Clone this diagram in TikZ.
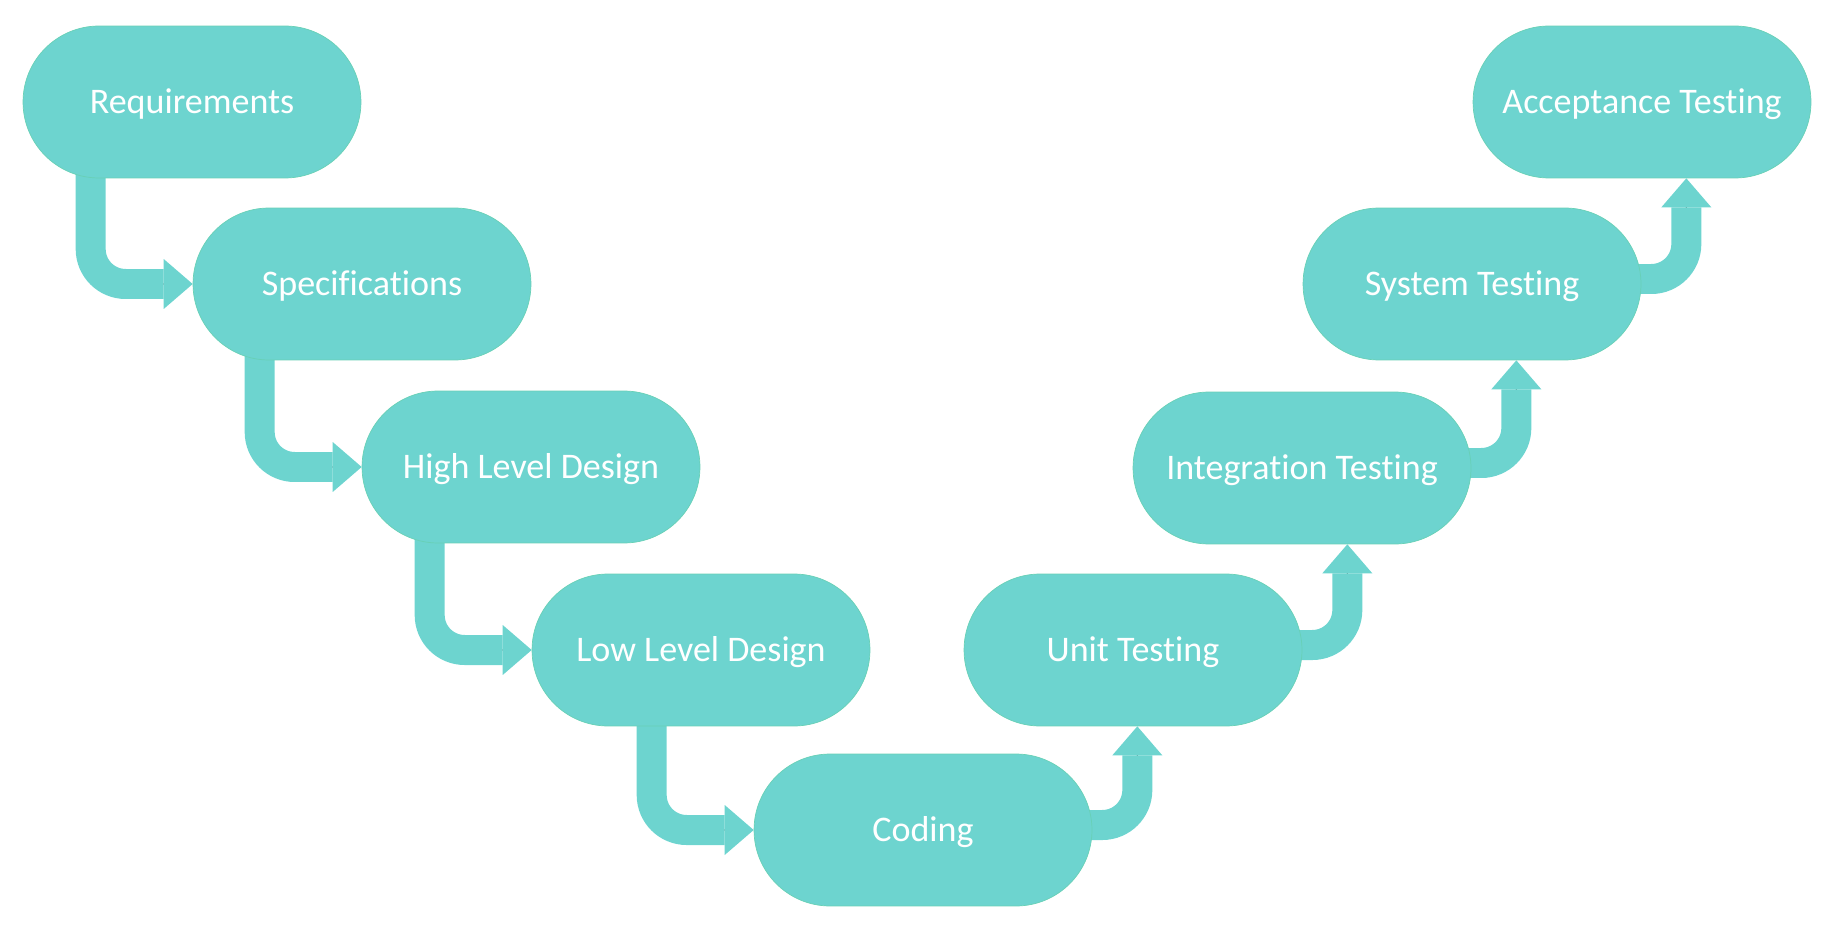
\documentclass[tikz,border=0pt]{standalone}
\usepackage{fontspec}
\setmainfont{Carlito}[Ligatures=NoCommon]
\usepackage{tikz}
\usetikzlibrary{arrows.meta,backgrounds}
\definecolor{vmfill}{RGB}{109,212,207}
\definecolor{vmline}{RGB}{104,208,182}

\begin{document}
\begin{tikzpicture}[x=0.02cm, y=-0.02cm,
	phase/.style={draw=vmline, line width=0.4pt, fill=vmfill, rounded corners=1.52cm,
		minimum width=6.76cm, minimum height=3.04cm, inner sep=0pt, text=white,
		font=\fontsize{20.5}{24}\selectfont, text height=13.2pt, text depth=0pt},
	flow/.style={draw=vmfill, line width=0.6cm, rounded corners=0.7cm,
		preaction={draw, -, shorten >=0.4cm},
		-{Triangle[width=1cm, length=0.58cm, line width=0pt]}}]
	\useasboundingbox (0,0) rectangle (1835,932);
	% left branch
	\node[phase] (req) at (192,102) {Requirements};
	\node[phase] (spec) at (362,284) {Specifications};
	\node[phase] (hld) at (531,467) {High Level Design};
	\node[phase] (lld) at (701,650) {Low Level Design};
	\node[phase] (cod) at (923,830) {Coding};
	% right branch
	\node[phase] (unit) at (1133,650) {Unit Testing};
	\node[phase] (integ) at (1302,468) {Integration Testing};
	\node[phase] (sys) at (1472,284) {System Testing};
	\node[phase] (acc) at (1642,102) {Acceptance Testing};
	% bends of the arrows
	\path (spec.west) ++(-102,0) coordinate (k1);
	\path (hld.west) ++(-102,0) coordinate (k2);
	\path (lld.west) ++(-102,0) coordinate (k3);
	\path (cod.west) ++(-102,0) coordinate (k4);
	\path (cod.east) ++(45,0) coordinate (k5);
	\path (unit.east) ++(45,0) coordinate (k6);
	\path (integ.east) ++(45,0) coordinate (k7);
	\path (sys.east) ++(45,0) coordinate (k8);
	\begin{scope}[on background layer]
		\draw[flow] (req.center -| k1) |- (spec.west);
		\draw[flow] (spec.center -| k2) |- (hld.west);
		\draw[flow] (hld.center -| k3) |- (lld.west);
		\draw[flow] (lld.center -| k4) |- (cod.west);
		\draw[flow] ([yshift=0.1cm]cod.center) -| (k5 |- unit.south);
		\draw[flow] ([yshift=0.1cm]unit.center) -| (k6 |- integ.south);
		\draw[flow] ([yshift=0.1cm]integ.center) -| (k7 |- sys.south);
		\draw[flow] ([yshift=0.1cm]sys.center) -| (k8 |- acc.south);
	\end{scope}
\end{tikzpicture}
\end{document}
